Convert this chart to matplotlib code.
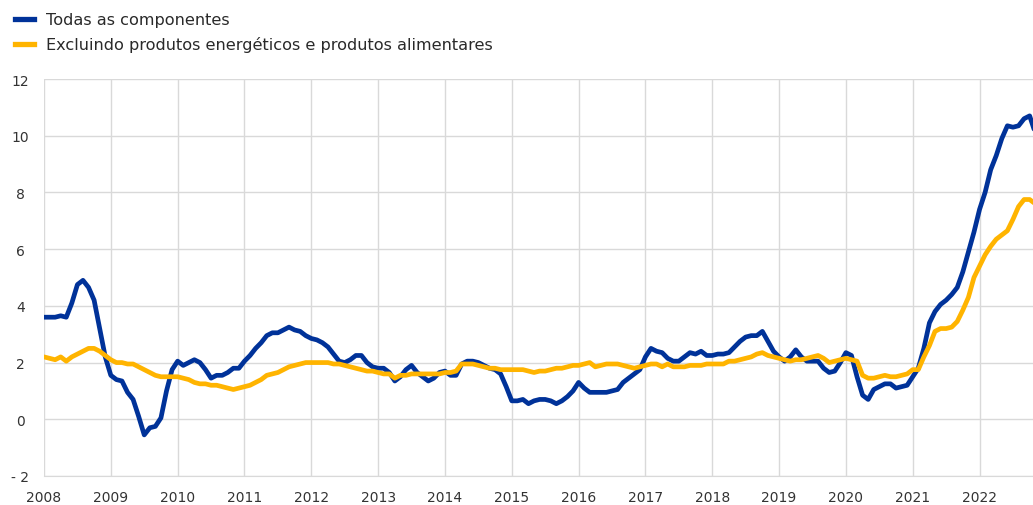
import numpy as np
import matplotlib
matplotlib.use("Agg")
import matplotlib.pyplot as plt
from matplotlib.lines import Line2D

plt.rcParams['font.family'] = ['DejaVu Sans']

start_year = 2008
series_labels = ["Todas as componentes",
                 "Excluindo produtos energéticos e produtos alimentares"]

# monthly values, Jan 2008 - Nov 2022
headline = [
    3.6, 3.6, 3.6, 3.65, 3.6, 4.1, 4.75, 4.9, 4.65, 4.2, 3.2, 2.2,      # 2008
    1.55, 1.4, 1.35, 0.95, 0.7, 0.1, -0.55, -0.3, -0.25, 0.05, 1.0, 1.75,  # 2009
    2.05, 1.9, 2.0, 2.1, 2.0, 1.75, 1.45, 1.55, 1.55, 1.65, 1.8, 1.8,   # 2010
    2.05, 2.25, 2.5, 2.7, 2.95, 3.05, 3.05, 3.15, 3.25, 3.15, 3.1, 2.95,  # 2011
    2.85, 2.8, 2.7, 2.55, 2.3, 2.05, 2.0, 2.1, 2.25, 2.25, 2.0, 1.85,   # 2012
    1.8, 1.8, 1.65, 1.35, 1.5, 1.75, 1.9, 1.65, 1.5, 1.35, 1.45, 1.65,  # 2013
    1.7, 1.55, 1.55, 1.95, 2.05, 2.05, 2.0, 1.9, 1.8, 1.75, 1.6, 1.15,  # 2014
    0.65, 0.65, 0.7, 0.55, 0.65, 0.7, 0.7, 0.65, 0.55, 0.65, 0.8, 1.0,  # 2015
    1.3, 1.1, 0.95, 0.95, 0.95, 0.95, 1.0, 1.05, 1.3, 1.45, 1.6, 1.75,  # 2016
    2.2, 2.5, 2.4, 2.35, 2.15, 2.05, 2.05, 2.2, 2.35, 2.3, 2.4, 2.25,   # 2017
    2.25, 2.3, 2.3, 2.35, 2.55, 2.75, 2.9, 2.95, 2.95, 3.1, 2.75, 2.4,  # 2018
    2.2, 2.05, 2.2, 2.45, 2.2, 2.05, 2.05, 2.05, 1.8, 1.65, 1.7, 2.0,   # 2019
    2.35, 2.25, 1.5, 0.85, 0.7, 1.05, 1.15, 1.25, 1.25, 1.1, 1.15, 1.2,  # 2020
    1.5, 1.8, 2.5, 3.4, 3.8, 4.05, 4.2, 4.4, 4.65, 5.2, 5.9, 6.6,       # 2021
    7.4, 8.0, 8.8, 9.3, 9.9, 10.35, 10.3, 10.35, 10.6, 10.7, 10.1,      # 2022
]
core = [
    2.2, 2.15, 2.1, 2.2, 2.05, 2.2, 2.3, 2.4, 2.5, 2.5, 2.4, 2.25,      # 2008
    2.1, 2.0, 2.0, 1.95, 1.95, 1.85, 1.75, 1.65, 1.55, 1.5, 1.5, 1.5,   # 2009
    1.5, 1.45, 1.4, 1.3, 1.25, 1.25, 1.2, 1.2, 1.15, 1.1, 1.05, 1.1,    # 2010
    1.15, 1.2, 1.3, 1.4, 1.55, 1.6, 1.65, 1.75, 1.85, 1.9, 1.95, 2.0,   # 2011
    2.0, 2.0, 2.0, 2.0, 1.95, 1.95, 1.9, 1.85, 1.8, 1.75, 1.7, 1.7,     # 2012
    1.65, 1.6, 1.6, 1.45, 1.55, 1.55, 1.6, 1.6, 1.6, 1.6, 1.6, 1.6,     # 2013
    1.65, 1.65, 1.7, 1.95, 1.95, 1.95, 1.9, 1.85, 1.8, 1.8, 1.75, 1.75,  # 2014
    1.75, 1.75, 1.75, 1.7, 1.65, 1.7, 1.7, 1.75, 1.8, 1.8, 1.85, 1.9,   # 2015
    1.9, 1.95, 2.0, 1.85, 1.9, 1.95, 1.95, 1.95, 1.9, 1.85, 1.8, 1.85,  # 2016
    1.9, 1.95, 1.95, 1.85, 1.95, 1.85, 1.85, 1.85, 1.9, 1.9, 1.9, 1.95,  # 2017
    1.95, 1.95, 1.95, 2.05, 2.05, 2.1, 2.15, 2.2, 2.3, 2.35, 2.25, 2.2,  # 2018
    2.15, 2.1, 2.05, 2.1, 2.1, 2.15, 2.2, 2.25, 2.15, 2.0, 2.05, 2.1,   # 2019
    2.15, 2.1, 2.05, 1.55, 1.45, 1.45, 1.5, 1.55, 1.5, 1.5, 1.55, 1.6,  # 2020
    1.75, 1.75, 2.2, 2.6, 3.1, 3.2, 3.2, 3.25, 3.45, 3.85, 4.3, 5.0,    # 2021
    5.4, 5.8, 6.1, 6.35, 6.5, 6.65, 7.05, 7.5, 7.75, 7.75, 7.6,         # 2022
]
year_ticks = list(range(2008, 2023))
y_ticks = [-2, 0, 2, 4, 6, 8, 10, 12]

months = np.arange(len(headline))
x = start_year + months / 12.0

W, H = 1033, 506
fig = plt.figure(figsize=(W / 100, H / 100), dpi=100)
ax = fig.add_axes([44 / W, (H - 477) / H, (W - 44) / W, (477 - 80) / H])

blue = "#003299"
yellow = "#FFB400"
colors = [blue, yellow]
lw = 3.4
ax.plot(x, headline, color=blue, lw=lw, solid_capstyle='round',
        solid_joinstyle='round', zorder=3)
ax.plot(x, core, color=yellow, lw=lw, solid_capstyle='round',
        solid_joinstyle='round', zorder=4)

ax.set_xlim(2008, 2008 + 177.6 / 12)
ax.set_ylim(-2, 12)
ax.set_xticks(year_ticks)
ax.set_yticks(y_ticks)
ax.set_xticklabels([str(y) for y in year_ticks])
ax.set_yticklabels([str(v) if v >= 0 else "- " + str(abs(v)) for v in y_ticks])
ax.grid(True, color="#d9d9d9", lw=1.0)
ax.set_axisbelow(True)
for s in ["top", "right", "left"]:
    ax.spines[s].set_visible(False)
ax.spines["bottom"].set_color("#d9d9d9")
ax.tick_params(length=0, labelsize=10, colors="#333333")
ax.tick_params(axis='x', pad=10)
ax.tick_params(axis='y', pad=17)
for lab in ax.get_yticklabels():
    lab.set_horizontalalignment('center')

# legend (top-left)
for i, (lab, c) in enumerate(zip(series_labels, colors)):
    yc = 1 - (20 + 25 * i) / H
    fig.add_artist(Line2D([15 / W, 34 / W], [yc, yc], color=c, lw=3.8,
                          transform=fig.transFigure))
    fig.text(46 / W, yc, lab, fontsize=11.6, color="#2a2a2a",
             va="center", ha="left")

fig.savefig("out.png", dpi=100)
